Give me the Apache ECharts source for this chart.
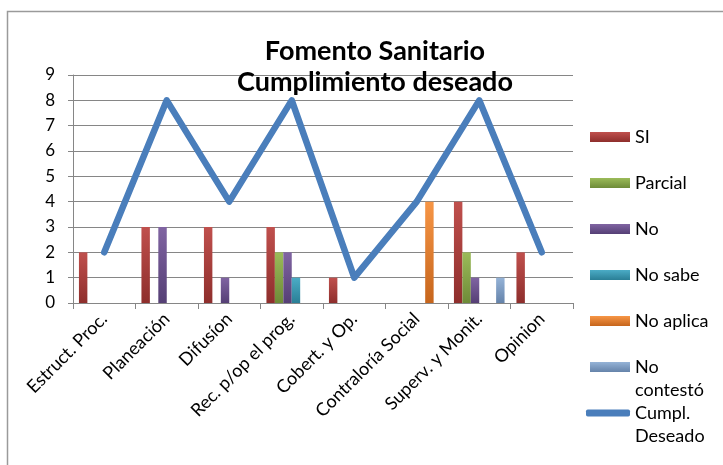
<!DOCTYPE html>
<html><head><meta charset="utf-8">
<script src="https://cdn.jsdelivr.net/npm/echarts@6/dist/echarts.min.js"></script>
<style>html,body{margin:0;padding:0;background:#fff}#c{width:723px;height:465px}</style>
</head><body><div id="c"></div>
<script>
const categories = ['Estruct. Proc.','Planeación','Difusíon','Rec. p/op el prog.','Cobert. y Op.','Contraloría Social','Superv. y Monit.','Opinion'];
const yTicks = [0,1,2,3,4,5,6,7,8,9];
const si = [2,3,3,3,1,0,4,2];
const parcial = [0,0,0,2,0,0,2,0];
const no = [0,3,1,2,0,0,1,0];
const noSabe = [0,0,0,1,0,0,0,0];
const noAplica = [0,0,0,0,0,4,0,0];
const noContesto = [0,0,0,0,0,0,1,0];
const cumplDeseado = [2,8,4,8,1,4,8,2];

const font = 'Lato, "Open Sans", sans-serif';
function grad(top, bottom){
  return new echarts.graphic.LinearGradient(0,0,0,1,[{offset:0,color:top},{offset:1,color:bottom}]);
}
const barDefs = [
  {name:'SI', data:si, c:['#C0504D','#8E2E2C']},
  {name:'Parcial', data:parcial, c:['#9BBB59','#6E8B38']},
  {name:'No', data:no, c:['#8064A2','#553F75']},
  {name:'No sabe', data:noSabe, c:['#4BACC6','#2A7F96']},
  {name:'No aplica', data:noAplica, c:['#F79646','#C6651C']},
  {name:'No contestó', data:noContesto, c:['#95B3D7','#6583AA']}
];
const series = barDefs.map(d => ({
  name:d.name, type:'bar', data:d.data, barGap:'0%', barCategoryGap:'19%',
  itemStyle:{color:grad(d.c[0],d.c[1])}
}));
series.push({
  name:'Cumpl. Deseado', type:'line', data:cumplDeseado, showSymbol:false, symbol:'none',
  lineStyle:{color:'#4A7EBB', width:6.5, cap:'round', join:'round'}, itemStyle:{color:'#4A7EBB'}, z:5
});
const legendCenters = [137,183,229,275,321,367,413];
const legends = series.map((s,i) => ({
  data:[s.name], left:590, top:legendCenters[i] - 11, itemWidth: i===6 ? 44 : 40, itemHeight: i===6 ? 7 : 10,
  icon: i===6 ? 'roundRect' : 'rect', itemGap:0,
  formatter: n => (n==='No contestó' ? 'No' : (n==='Cumpl. Deseado' ? 'Cumpl.' : n)),
  textStyle:{fontFamily:font, fontSize:18, lineHeight:22, color:'#000'},
  padding:0, selectedMode:false
}));
legends[6].left = 586;

const chart = echarts.init(document.getElementById('c'), null, {renderer:'canvas'});
chart.setOption({
  animation:false,
  backgroundColor:'#fff',
  title:{text:'Fomento Sanitario\nCumplimiento deseado', left:370, textAlign:'center', top:31,
    textStyle:{fontFamily:font, fontWeight:'bold', fontSize:27, lineHeight:31, color:'#000'}},
  legend:legends,
  grid:{left:73, right:150, top:75, bottom:162, containLabel:false},
  xAxis:{type:'category', data:categories,
    axisLine:{lineStyle:{color:'#868686'}},
    axisTick:{show:true, length:6, lineStyle:{color:'#868686'}},
    axisLabel:{rotate:45, fontFamily:font, fontSize:18, color:'#000', margin:13, interval:0}},
  yAxis:{type:'value', min:0, max:9, interval:1,
    axisLine:{show:true, lineStyle:{color:'#868686'}},
    axisTick:{show:true, length:5, lineStyle:{color:'#868686'}},
    splitLine:{lineStyle:{color:'#868686'}},
    axisLabel:{fontFamily:font, fontSize:17, color:'#000', margin:18,
      formatter: v => String(yTicks[v] !== undefined ? yTicks[v] : v)}},
  graphic:[
    {type:'polyline', shape:{points:[[7.5,465],[7.5,11.5],[723,11.5]]}, style:{fill:null, stroke:'#9A9A9A', lineWidth:1.5}, silent:true},
    {type:'text', left:635, top:381, style:{text:'contestó', font:'18px '+font, fill:'#000'}},
    {type:'text', left:635, top:427, style:{text:'Deseado', font:'18px '+font, fill:'#000'}}
  ],
  series:series
});
</script></body></html>
